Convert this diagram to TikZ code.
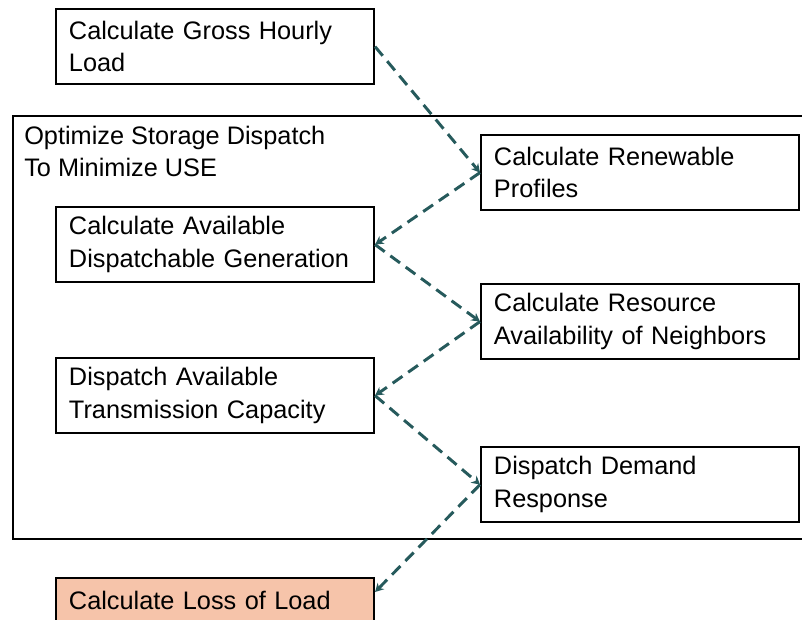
\documentclass[tikz,border=0pt]{standalone}
\usepackage{fontspec}
\setmainfont{Liberation Sans}
\usetikzlibrary{arrows.meta}
\definecolor{flowteal}{RGB}{38,90,92}
\definecolor{losspeach}{RGB}{246,196,170}
\begin{document}
\begin{tikzpicture}[x = 0.025cm, y = -0.025cm,
                    stepbox/.style = {draw, line width = 1.4pt, anchor = north west, align = left,
                                      inner xsep = 0.325cm, text width = 7.3cm, minimum height = 1.88cm,
                                      font = \fontsize{18}{23}\selectfont},
                    flow/.style = {draw = flowteal, line width = 2.1pt, dash pattern = on 8.5pt off 5pt,
                                   -{Stealth[length = 6pt, width = 6.5pt]}}]
                    \useasboundingbox (0, 0) rectangle (802, 619);
                    \clip (0, 0) rectangle (802, 619);

                    \node[draw, line width = 1.4pt, anchor = north west, minimum width = 20.5cm,
                          minimum height = 10.58cm] (storage) at (12, 115) {};
                    \node[anchor = north west, align = left, inner sep = 0pt,
                          font = \fontsize{18}{23}\selectfont] (optlabel) at (24, 126)
                          {Optimize Storage Dispatch\\To Minimize USE};

                    \node[stepbox] (gross)     at (55, 8)    {Calculate Gross Hourly\\Load};
                    \node[stepbox] (dispgen)   at (55, 206)  {Calculate Available\\Dispatchable Generation};
                    \node[stepbox] (trans)     at (55, 357)  {Dispatch Available\\Transmission Capacity};
                    \node[stepbox, fill = losspeach, minimum height = 1.1cm] (loss) at (55, 577) {Calculate Loss of Load};

                    \node[stepbox] (renew)     at (480, 134) {Calculate Renewable\\Profiles};
                    \node[stepbox] (neighbors) at (480, 283) {Calculate Resource\\Availability of Neighbors};
                    \node[stepbox] (demand)    at (480, 446) {Dispatch Demand\\Response};

                    \draw[flow] (gross.east) -- (renew.west);
                    \draw[flow] (renew.west) -- (dispgen.east);
                    \draw[flow] (dispgen.east) -- (neighbors.west);
                    \draw[flow] (neighbors.west) -- (trans.east);
                    \draw[flow] (trans.east) -- (demand.west);
                    \draw[flow] (demand.west) -- ([yshift = -0.375cm]loss.north east);
                \end{tikzpicture}
\end{document}
